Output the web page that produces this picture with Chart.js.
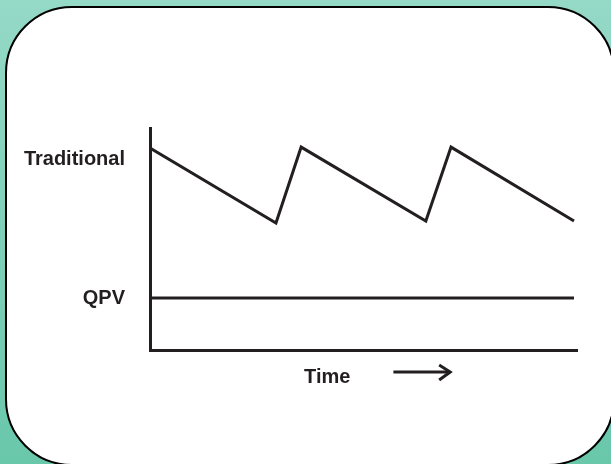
<!DOCTYPE html>
<html>
<head>
<meta charset="utf-8">
<script src="https://cdn.jsdelivr.net/npm/chart.js@4"></script>
<style>
  html, body { margin: 0; padding: 0; background: #7fcfb8; }
  #wrap { width: 611px; height: 464px; position: relative; }
</style>
</head>
<body>
<div id="wrap"><canvas id="chart"></canvas></div>
<script>
// Time axis positions (0..100) and level values (0..100)
const timePoints = [0, 29.5, 35.4, 64.6, 70.5, 99.3];
const traditionalLevel = [91, 57.2, 91.4, 58.1, 91.4, 58.1];
const qpvTime = [0, 99.3];
const qpvLevel = [23.4, 23.4];
const levelLabels = ['Traditional', 'QPV'];
const labelValues = [85.6, 23.0];

const INK = '#231f20';
const FONT = "'Liberation Sans', Arial, sans-serif";

function toPoints(xs, ys) {
    return xs.map((x, i) => ({ x: x, y: ys[i] }));
}

// Background: teal gradient plus white rounded panel
const panelPlugin = {
    id: 'panel',
    beforeDraw(chart) {
        const ctx = chart.ctx;
        const w = chart.width, h = chart.height;
        ctx.save();
        const g = ctx.createLinearGradient(0, 0, 0, h);
        g.addColorStop(0, '#95d9c7');
        g.addColorStop(1, '#69c7aa');
        ctx.fillStyle = g;
        ctx.fillRect(0, 0, w, h);

        const x0 = 6, y0 = 7, x1 = 614, y1 = 465, r = 66;
        ctx.beginPath();
        ctx.moveTo(x0 + r, y0);
        ctx.lineTo(x1 - r, y0);
        ctx.arcTo(x1, y0, x1, y0 + r, r);
        ctx.lineTo(x1, y1 - r);
        ctx.arcTo(x1, y1, x1 - r, y1, r);
        ctx.lineTo(x0 + r, y1);
        ctx.arcTo(x0, y1, x0, y1 - r, r);
        ctx.lineTo(x0, y0 + r);
        ctx.arcTo(x0, y0, x0 + r, y0, r);
        ctx.closePath();
        ctx.fillStyle = '#ffffff';
        ctx.fill();
        ctx.lineWidth = 2;
        ctx.strokeStyle = '#000000';
        ctx.stroke();
        ctx.restore();
    },
    afterDraw(chart) {
        // "Time" label with arrow under the x axis
        const ctx = chart.ctx;
        const xs = chart.scales.x;
        const base = xs.top;
        ctx.save();
        ctx.fillStyle = INK;
        ctx.font = 'bold 20px ' + FONT;
        ctx.textAlign = 'center';
        ctx.textBaseline = 'middle';
        ctx.fillText('Time', xs.getPixelForValue(41.5), base + 27);

        const ax0 = xs.getPixelForValue(57), ax1 = xs.getPixelForValue(70.3);
        const ay = base + 22;
        ctx.strokeStyle = INK;
        ctx.lineWidth = 3;
        ctx.beginPath();
        ctx.moveTo(ax0, ay);
        ctx.lineTo(ax1, ay);
        ctx.stroke();
        ctx.beginPath();
        ctx.moveTo(ax1 - 11, ay - 7);
        ctx.lineTo(ax1, ay);
        ctx.lineTo(ax1 - 11, ay + 8);
        ctx.stroke();
        ctx.restore();
    }
};

new Chart(document.getElementById('chart').getContext('2d'), {
    type: 'line',
    data: {
        datasets: [
            {
                label: 'Traditional',
                data: toPoints(timePoints, traditionalLevel),
                borderColor: INK,
                borderWidth: 3,
                pointRadius: 0,
                tension: 0,
                fill: false
            },
            {
                label: 'QPV',
                data: toPoints(qpvTime, qpvLevel),
                borderColor: INK,
                borderWidth: 3,
                pointRadius: 0,
                tension: 0,
                fill: false
            }
        ]
    },
    options: {
        responsive: true,
        maintainAspectRatio: false,
        animation: false,
        layout: {
            padding: { top: 128, right: 34, left: 0, bottom: 0 }
        },
        plugins: {
            legend: { display: false },
            tooltip: { enabled: false }
        },
        scales: {
            x: {
                type: 'linear',
                min: 0,
                max: 100,
                grid: { display: false },
                ticks: { display: false },
                border: { display: true, color: INK, width: 3 },
                afterFit: function(scale) { scale.height = 114; }
            },
            y: {
                type: 'linear',
                min: 0,
                max: 100,
                grid: { display: false },
                border: { display: true, color: INK, width: 3 },
                afterBuildTicks: function(scale) {
                    scale.ticks = labelValues.map(v => ({ value: v }));
                },
                ticks: {
                    color: INK,
                    padding: 17,
                    font: { family: FONT, size: 20, weight: 'bold' },
                    callback: function(value, index) { return levelLabels[index]; }
                },
                afterFit: function(scale) { scale.width = 150; }
            }
        }
    },
    plugins: [panelPlugin]
});
</script>
</body>
</html>
